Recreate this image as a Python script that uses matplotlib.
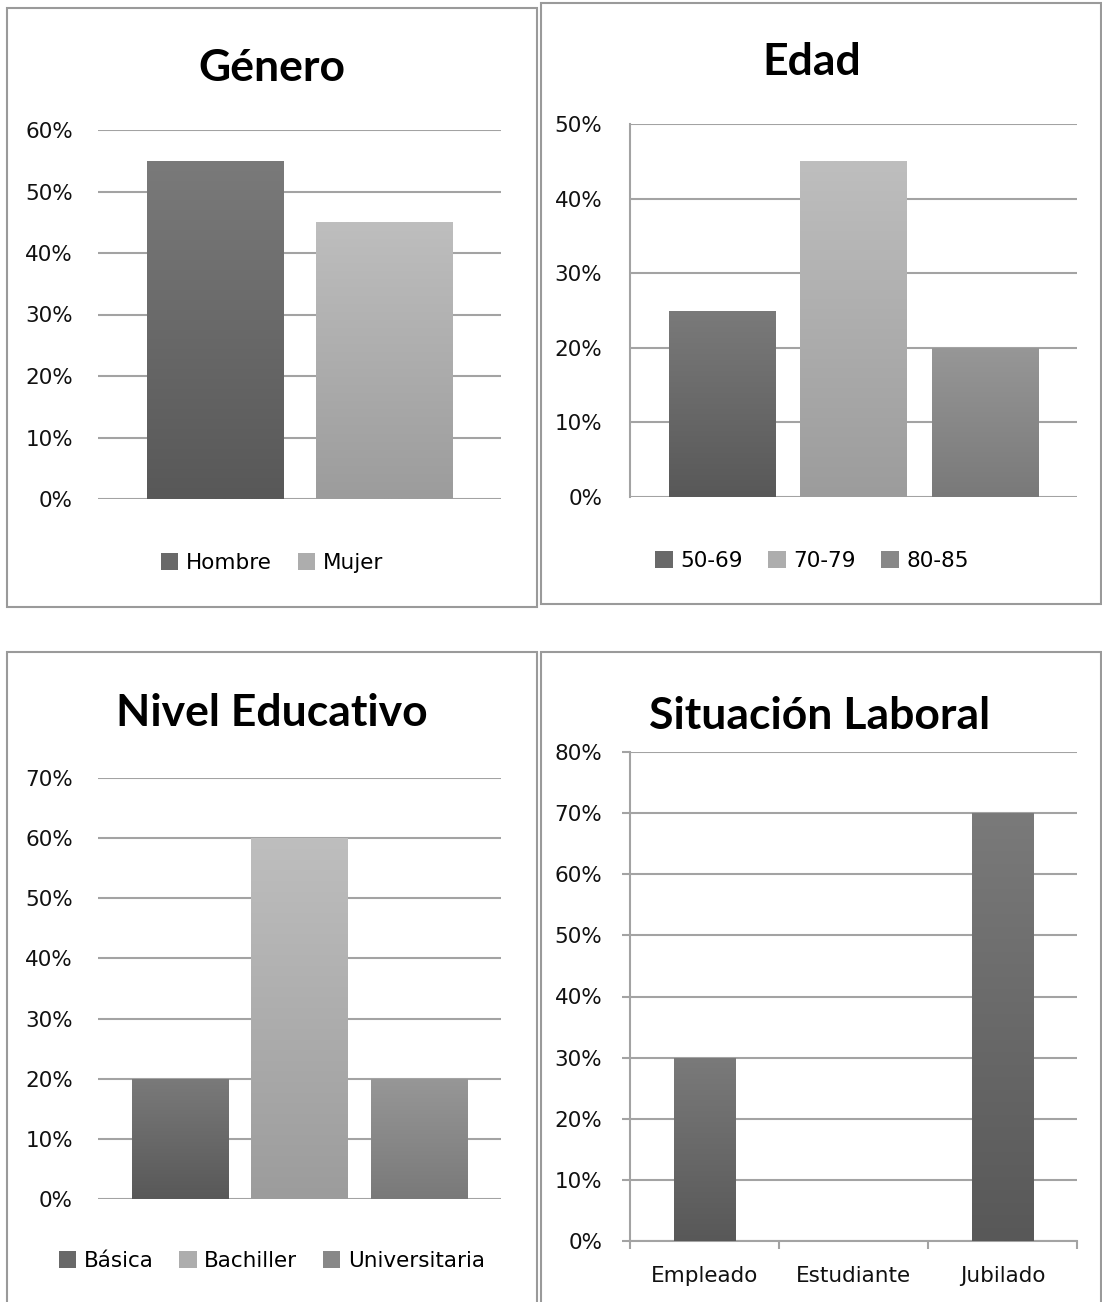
import matplotlib
matplotlib.use("Agg")
import matplotlib.pyplot as plt
import numpy as np
from matplotlib.colors import LinearSegmentedColormap
from matplotlib.patches import Rectangle
from matplotlib.ticker import PercentFormatter

# data
genero_labels = ["Hombre", "Mujer"]
genero_vals = [0.55, 0.45]

edad_labels = ["50-69", "70-79", "80-85"]
edad_vals = [0.25, 0.45, 0.20]

edu_labels = ["Básica", "Bachiller", "Universitaria"]
edu_vals = [0.20, 0.60, 0.20]

lab_labels = ["Empleado", "Estudiante", "Jubilado"]
lab_vals = [0.30, 0.00, 0.70]

# gradient colours (top, bottom) per series
DARK = ("#7a7a7a", "#585858")
LIGHT = ("#bebebe", "#9c9c9c")
MID = ("#979797", "#797979")

W, H = 1102, 1302
fig = plt.figure(figsize=(W / 100, H / 100), dpi=100)
fig.patch.set_facecolor("white")

TICK_FONT = "DejaVu Sans"
TITLE_FONT = "Lato"
GRID = "#a3a3a3"
FS = 15.5


def fx(x):
    return x / W


def fy(y):
    return 1 - y / H


def add_ax(x0, y0, x1, y1):
    return fig.add_axes([fx(x0), fy(y1), fx(x1) - fx(x0), fy(y0) - fy(y1)])


def panel_border(x0, y0, x1, y1):
    fig.patches.append(Rectangle((fx(x0), fy(y1)), fx(x1) - fx(x0), fy(y0) - fy(y1),
                                 transform=fig.transFigure, fill=False,
                                 edgecolor="#9a9a9a", linewidth=1.5))


def mid_color(c):
    a = np.array(matplotlib.colors.to_rgb(c[0]))
    b = np.array(matplotlib.colors.to_rgb(c[1]))
    return tuple((a + b) / 2)


def grad_bar(ax, x, h, width, colors, label=None):
    bars = ax.bar([x], [h], width=width, color=mid_color(colors), label=label,
                  zorder=3, linewidth=0)
    for p in bars.patches:
        if p.get_height() <= 0:
            continue
        cmap = LinearSegmentedColormap.from_list("g", [colors[1], colors[0]])
        grad = np.linspace(0, 1, 256).reshape(-1, 1)
        im = ax.imshow(grad, extent=[p.get_x(), p.get_x() + p.get_width(), 0, p.get_height()],
                       origin="lower", aspect="auto", cmap=cmap, zorder=4)
        im.set_clip_path(p)
    return bars


def style_axes(ax, ymax, step, left_spine=False, left_ticks=False):
    ax.set_ylim(0, ymax)
    ax.set_yticks(np.arange(0, ymax + 1e-9, step))
    ax.yaxis.set_major_formatter(PercentFormatter(1.0, decimals=0))
    ax.yaxis.grid(True, color=GRID, linewidth=1.5, zorder=0)
    ax.set_axisbelow(True)
    for s in ["top", "right", "bottom"]:
        ax.spines[s].set_visible(False)
    ax.spines["left"].set_visible(left_spine)
    ax.spines["left"].set_color(GRID)
    ax.spines["left"].set_linewidth(1.5)
    if left_ticks:
        ax.tick_params(axis="y", length=6, color=GRID, width=1.5, pad=14, labelsize=FS)
    elif left_spine:
        ax.tick_params(axis="y", length=0, pad=20, labelsize=FS)
    else:
        ax.tick_params(axis="y", length=0, pad=18, labelsize=FS)
    for t in ax.get_yticklabels():
        t.set_fontfamily(TICK_FONT)
        t.set_color("#111111")
    ax.set_xticks([])
    ax.patch.set_alpha(0)


def title(x, y, text):
    fig.text(fx(x), fy(y), text, ha="center", va="center", fontsize=32,
             fontweight="bold", family=TITLE_FONT, color="black")


def legend(ax, x, y):
    fig.legend(*ax.get_legend_handles_labels(), loc="center", bbox_to_anchor=(fx(x), fy(y)),
               ncol=3, frameon=False, handlelength=0.8, handleheight=0.8,
               handletextpad=0.35, columnspacing=1.2,
               prop={"family": TICK_FONT, "size": FS})


# panel 1: Genero
panel_border(7, 8, 537, 607)
title(272, 68, "Género")
ax1 = add_ax(98, 130, 501, 499)
series1 = [DARK, LIGHT]
for i, (lbl, v) in enumerate(zip(genero_labels, genero_vals)):
    grad_bar(ax1, i, v, 0.805, series1[i], lbl)
style_axes(ax1, 0.6, 0.1)
ax1.set_xlim(-0.692, 1.692)
legend(ax1, 272, 563)

# panel 2: Edad
panel_border(541, 3, 1101, 604)
title(812, 62, "Edad")
ax2 = add_ax(630, 124, 1077, 497)
series2 = [DARK, LIGHT, MID]
for i, (lbl, v) in enumerate(zip(edad_labels, edad_vals)):
    grad_bar(ax2, i, v, 0.81, series2[i], lbl)
style_axes(ax2, 0.5, 0.1, left_spine=True)
ax2.set_xlim(-0.702, 2.702)
legend(ax2, 812, 561)

# panel 3: Nivel Educativo
panel_border(7, 652, 537, 1310)
title(272, 713, "Nivel Educativo")
ax3 = add_ax(98, 778, 501, 1199)
for i, (lbl, v) in enumerate(zip(edu_labels, edu_vals)):
    grad_bar(ax3, i, v, 0.807, series2[i], lbl)
style_axes(ax3, 0.7, 0.1)
ax3.set_xlim(-0.69, 2.69)
legend(ax3, 272, 1261)

# panel 4: Situacion Laboral
panel_border(541, 652, 1101, 1310)
title(820, 716, "Situación Laboral")
ax4 = add_ax(630, 752, 1077, 1241)
for i, v in enumerate(lab_vals):
    grad_bar(ax4, i, v, 0.41, DARK)
style_axes(ax4, 0.8, 0.1, left_spine=True, left_ticks=True)
ax4.set_xlim(-0.5, 2.5)
ax4.spines["bottom"].set_visible(True)
ax4.spines["bottom"].set_color(GRID)
ax4.spines["bottom"].set_linewidth(1.5)
ax4.set_xticks([-0.5, 0.5, 1.5, 2.5])
ax4.set_xticklabels([])
ax4.set_xticks(range(len(lab_labels)), minor=True)
ax4.set_xticklabels(lab_labels, minor=True, family=TICK_FONT, fontsize=FS, color="#111111")
ax4.tick_params(axis="x", which="major", length=6, color=GRID, width=1.5)
ax4.tick_params(axis="x", which="minor", length=0, pad=18)

fig.savefig("out.png", dpi=100)
